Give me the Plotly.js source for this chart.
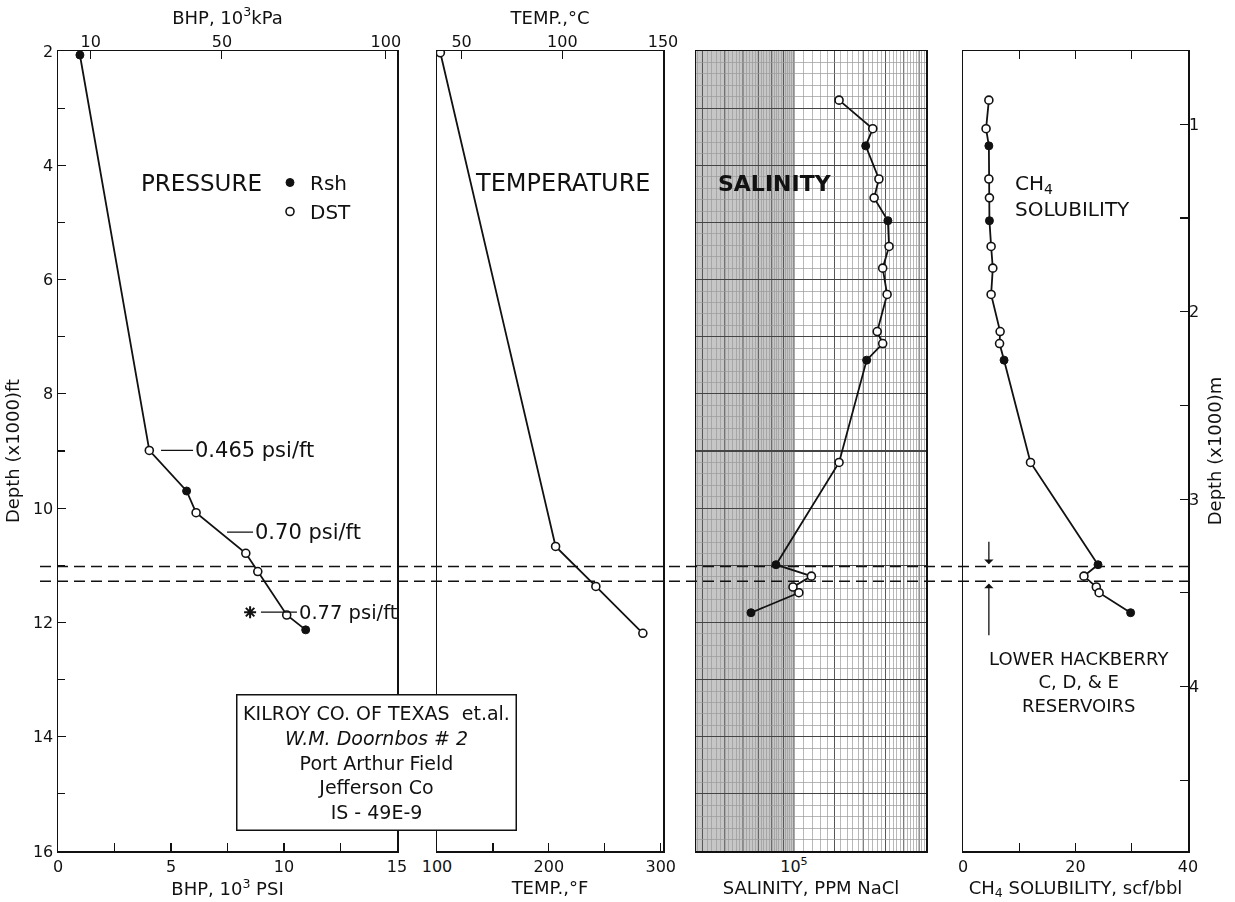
<!DOCTYPE html>
<html><head><meta charset="utf-8">
<script src="https://cdn.plot.ly/plotly-3.0.1.min.js"></script>
<style>html,body{margin:0;padding:0;background:#fff}#chart{width:1235px;height:902px}</style>
</head><body><div id="chart"></div>
<script>
// ---------------- data ----------------
// Pressure (BHP, 10^3 psi) vs depth (x1000 ft)
const presDepth  = [2.07, 8.99, 9.70, 10.08, 10.79, 11.11, 11.87, 12.13];
const presKsi    = [0.97, 4.04, 5.69, 6.11, 8.31, 8.84, 10.12, 10.96];
const presSource = ['Rsh','DST','Rsh','DST','DST','DST','DST','Rsh'];
const starDepth  = [11.82];
const starKsi    = [8.50];
// Temperature (deg F)
const tempDepth = [2.03, 10.67, 11.37, 12.19];
const tempF     = [103, 206, 242, 284];
// Salinity (ppm NaCl) and CH4 solubility (scf/bbl) at sample depths
const sampleDepth  = [2.86,3.36,3.66,4.24,4.57,4.97,5.42,5.80,6.26,6.91,7.12,7.41,9.20,10.99,11.19,11.38,11.48,11.83];
const salinityPpm  = [157000,220000,205000,234000,223000,256000,259000,243000,254000,230000,243000,207000,157000,83500,119000,99000,105000,65000];
const ch4Scf       = [4.6,4.1,4.6,4.6,4.7,4.7,5.0,5.3,5.0,6.6,6.5,7.3,12.0,24.0,21.5,23.7,24.2,29.8];
const sampleSource = ['DST','DST','Rsh','DST','DST','Rsh','DST','DST','DST','DST','DST','Rsh','DST','Rsh','DST','DST','DST','Rsh'];
// Lower Hackberry reservoir boundaries (x1000 ft)
const reservoirDepths = [11.02, 11.28];
// tick labels
const psiTicks = [0,5,10,15], psiMinor = [2.5,7.5,12.5];
const kpaTicks = [10,50,100];
const fTicks = [100,200,300], fMinor = [150,250];
const cTicks = [50,100,150];
const ch4Ticks = [0,20,40], ch4Minor = [10,30];
const gradLabels = ['0.465 psi/ft','0.70 psi/ft','0.77 psi/ft'];

// ---------------- helpers ----------------
const F = 'DejaVu Sans, sans-serif';
const INK = '#111';
const PSI2MPA = 6.894757, FT2M = 0.3048;
const fToC = f => (f - 32) / 1.8;
const log10 = v => Math.log10(v);
const pick = (arr, src, key) => arr.filter((_, i) => src[i] === key);

const L = 58, R = 1188, W = 1235;
const pw = R - L;
const dom = (a, b) => [(a - L) / pw, (b - L) / pw];
const salLo = 5 - 98 / 230, salHi = salLo + 1;

function axis(extra) {
  return Object.assign({
    showline: true, linecolor: INK, linewidth: 1.5, mirror: true,
    zeroline: false, showgrid: false, ticks: 'inside', tickcolor: INK,
    ticklen: 8, tickwidth: 1.2, automargin: false,
    tickfont: {family: F, size: 16, color: INK}
  }, extra);
}
const ttl = (t, extra) => Object.assign({text: t, font: {family: F, size: 18, color: INK}}, extra || {});

const lineStyle = {color: INK, width: 1.8};
const rshMarker = {symbol: 'circle', size: 8, color: INK, line: {color: INK, width: 1}};
const dstMarker = {symbol: 'circle', size: 8, color: '#fff', line: {color: INK, width: 1.6}};

const traces = [];
// pressure
traces.push({x: presKsi, y: presDepth, xaxis: 'x', yaxis: 'y', mode: 'lines', line: lineStyle, showlegend: false, hoverinfo: 'skip'});
traces.push({x: pick(presKsi, presSource, 'Rsh'), y: pick(presDepth, presSource, 'Rsh'), xaxis: 'x', yaxis: 'y', mode: 'markers', marker: rshMarker, name: 'Rsh'});
traces.push({x: pick(presKsi, presSource, 'DST'), y: pick(presDepth, presSource, 'DST'), xaxis: 'x', yaxis: 'y', mode: 'markers', marker: dstMarker, name: 'DST'});
traces.push({x: starKsi, y: starDepth, xaxis: 'x', yaxis: 'y', mode: 'markers', marker: {symbol: 'asterisk-open', size: 10, color: INK, line: {color: INK, width: 2}}, showlegend: false});
traces.push({x: presKsi.map(v => v * PSI2MPA), y: presDepth, xaxis: 'x5', yaxis: 'y', mode: 'markers', opacity: 0, showlegend: false, hoverinfo: 'skip'});
// temperature
traces.push({x: tempF, y: tempDepth, xaxis: 'x2', yaxis: 'y2', mode: 'lines+markers', line: lineStyle, marker: dstMarker, showlegend: false});
traces.push({x: tempF.map(fToC), y: tempDepth, xaxis: 'x6', yaxis: 'y2', mode: 'markers', opacity: 0, showlegend: false, hoverinfo: 'skip'});
// salinity
const salLog = salinityPpm.map(log10);
traces.push({x: salLog, y: sampleDepth, xaxis: 'x3', yaxis: 'y3', mode: 'lines', line: lineStyle, showlegend: false});
traces.push({x: pick(salLog, sampleSource, 'Rsh'), y: pick(sampleDepth, sampleSource, 'Rsh'), xaxis: 'x3', yaxis: 'y3', mode: 'markers', marker: rshMarker, showlegend: false});
traces.push({x: pick(salLog, sampleSource, 'DST'), y: pick(sampleDepth, sampleSource, 'DST'), xaxis: 'x3', yaxis: 'y3', mode: 'markers', marker: dstMarker, showlegend: false});
// CH4
traces.push({x: ch4Scf, y: sampleDepth, xaxis: 'x4', yaxis: 'y4', mode: 'lines', line: lineStyle, showlegend: false});
traces.push({x: pick(ch4Scf, sampleSource, 'Rsh'), y: pick(sampleDepth, sampleSource, 'Rsh'), xaxis: 'x4', yaxis: 'y4', mode: 'markers', marker: rshMarker, showlegend: false});
traces.push({x: pick(ch4Scf, sampleSource, 'DST'), y: pick(sampleDepth, sampleSource, 'DST'), xaxis: 'x4', yaxis: 'y4', mode: 'markers', marker: dstMarker, showlegend: false});
traces.push({x: ch4Scf, y: sampleDepth.map(d => d * FT2M), xaxis: 'x4', yaxis: 'y5', mode: 'markers', opacity: 0, showlegend: false, hoverinfo: 'skip'});

// salinity log-paper grid (graph paper background, not data)
const salMajor = [], salMinor = [];
for (let v = 38000; v < 100000; v += 2000) (v % 10000 === 0 ? salMajor : salMinor).push(v);
for (let v = 100000; v <= 370000; v += 10000) (v % 50000 === 0 ? salMajor : salMinor).push(v);
const depthFine = [];
for (let k = 10; k <= 80; k++) if (k % 5 !== 0) depthFine.push(k / 5);

const paperShapes = [
  {type: 'rect', xref: 'x3', yref: 'paper', x0: salLo, x1: 5, y0: 0, y1: 1,
   fillcolor: '#c6c6c6', line: {width: 0}, layer: 'below'}
].concat(salMajor.map(v => ({type: 'line', xref: 'x3', yref: 'paper', x0: log10(v), x1: log10(v), y0: 0, y1: 1,
   line: {color: '#555', width: 1}, layer: 'below'})));

const arrowAnn = (head, tail) => ({xref: 'x4', yref: 'y4', x: 4.6, y: head, axref: 'x4', ayref: 'y4', ax: 4.6, ay: tail,
  text: '', showarrow: true, arrowhead: 1, arrowsize: 1.2, arrowwidth: 1.3, arrowcolor: INK});
const gradAnn = (i, x, y, ax, size) => ({xref: 'x', yref: 'y', x: x, y: y, ax: ax, ay: 0, xanchor: 'left',
  text: gradLabels[i], showarrow: true, arrowhead: 0, arrowwidth: 1.3, arrowcolor: INK,
  font: {family: F, size: size, color: INK}});

const layout = {
  width: W, height: 902,
  margin: {l: L, r: W - R, t: 51, b: 51},
  paper_bgcolor: '#fff', plot_bgcolor: 'rgba(0,0,0,0)',
  font: {family: F, color: INK},
  showlegend: true,
  legend: {x: (270 - L) / pw, y: (851 - 163) / 800, xanchor: 'left', yanchor: 'top',
           font: {family: F, size: 20, color: INK}, bgcolor: 'rgba(0,0,0,0)',
           itemwidth: 30, tracegroupgap: 0, traceorder: 'normal'},
  xaxis: axis({domain: dom(58, 397), anchor: 'y', range: [0, 15], tickvals: psiTicks,
               minor: {tickvals: psiMinor, ticks: 'inside', ticklen: 8, tickcolor: INK},
               title: ttl('BHP, 10<sup>3</sup> PSI', {standoff: 6})}),
  xaxis5: axis({overlaying: 'x', anchor: 'y', side: 'top', showline: false,
                range: [0, 15 * PSI2MPA], tickvals: kpaTicks,
                title: ttl('BHP, 10<sup>3</sup>kPa', {standoff: 2})}),
  xaxis2: axis({domain: dom(437, 663), anchor: 'y2', range: [100, 302], tickvals: fTicks,
                minor: {tickvals: fMinor, ticks: 'inside', ticklen: 8, tickcolor: INK},
                title: ttl('TEMP.,°F', {standoff: 6})}),
  xaxis6: axis({overlaying: 'x2', anchor: 'y2', side: 'top', showline: false,
                range: [fToC(100), fToC(302)], tickvals: cTicks,
                title: ttl('TEMP.,°C', {standoff: 2})}),
  xaxis3: axis({domain: dom(696, 926), anchor: 'y3', range: [salLo, salHi],
                tickvals: [5], ticktext: ['10<sup>5</sup>'], ticks: '',
                minor: {tickvals: salMinor.map(log10), showgrid: true, gridcolor: '#9a9a9a', gridwidth: 0.7, ticks: ''},
                title: ttl('SALINITY, PPM NaCl', {standoff: 6})}),
  xaxis4: axis({domain: dom(963, 1188), anchor: 'y4', range: [0, 40], tickvals: ch4Ticks,
                minor: {tickvals: ch4Minor, ticks: 'inside', ticklen: 8, tickcolor: INK},
                mirror: 'ticks',
                title: ttl('CH<sub>4</sub> SOLUBILITY, scf/bbl', {standoff: 6})}),
  yaxis: axis({domain: [0, 1], anchor: 'x', range: [16, 2], dtick: 2, tick0: 0,
               minor: {dtick: 1, ticks: 'inside', ticklen: 7, tickcolor: INK},
               title: ttl('Depth (x1000)ft', {standoff: 8})}),
  yaxis2: axis({matches: 'y', anchor: 'x2', showticklabels: false, ticks: ''}),
  yaxis3: axis({matches: 'y', anchor: 'x3', showticklabels: false, ticks: '', dtick: 1, tick0: 0,
                showgrid: true, gridcolor: '#444', gridwidth: 1.1,
                minor: {tickvals: depthFine, showgrid: true, gridcolor: '#9a9a9a', gridwidth: 0.7, ticks: ''}}),
  yaxis4: axis({matches: 'y', anchor: 'x4', showticklabels: false, ticks: ''}),
  yaxis5: axis({overlaying: 'y4', anchor: 'x4', side: 'right', showline: false,
                range: [16 * FT2M, 2 * FT2M], dtick: 1, tick0: 0,
                minor: {dtick: 0.5, ticks: 'inside', ticklen: 8, tickcolor: INK},
                title: ttl('Depth (x1000)m', {standoff: 10})}),
  shapes: paperShapes.concat(reservoirDepths.map(d => ({
    type: 'line', xref: 'paper', yref: 'y', x0: -18 / pw, x1: 1, y0: d, y1: d,
    line: {color: INK, width: 1.5, dash: '11px,6px'}, layer: 'above'}))),
  annotations: [
    {xref: 'x', yref: 'y', x: 6.35, y: 4.31, text: 'PRESSURE', showarrow: false, font: {family: F, size: 23, color: INK}},
    {xref: 'x2', yref: 'y2', x: 213, y: 4.31, text: 'TEMPERATURE', showarrow: false, font: {family: F, size: 24, color: INK}},
    {xref: 'x3', yref: 'y3', x: salLo + (775 - 696) / 230, y: 4.31, text: '<b>SALINITY</b>', showarrow: false, font: {family: F, size: 22, color: INK}},
    {xref: 'x4', yref: 'y4', x: 8.9, y: 4.54, text: 'CH<sub>4</sub><br>SOLUBILITY', align: 'left', xanchor: 'left', showarrow: false, font: {family: F, size: 20, color: INK}},
    {xref: 'x4', yref: 'y4', x: 20.6, y: 13.04, text: 'LOWER HACKBERRY<br>C, D, & E<br>RESERVOIRS', showarrow: false, font: {family: F, size: 18, color: INK}},
    arrowAnn(10.98, 10.56),
    arrowAnn(11.32, 12.25),
    gradAnn(0, 4.56, 8.99, 32, 21),
    gradAnn(1, 7.48, 10.42, 26, 21),
    gradAnn(2, 8.98, 11.82, 36, 19.5),
    {xref: 'paper', yref: 'paper', x: (376.5 - L) / pw, y: (851 - 762.5) / 800, xanchor: 'center', yanchor: 'middle', showarrow: false,
     width: 276, height: 132, bgcolor: '#fff', bordercolor: INK, borderwidth: 1.5, borderpad: 1, align: 'center',
     font: {family: F, size: 19, color: INK},
     text: 'KILROY CO. OF TEXAS&nbsp;&nbsp;et.al.<br><i>W.M. Doornbos # 2</i><br>Port Arthur Field<br>Jefferson Co<br>IS - 49E-9'}
  ]
};

Plotly.newPlot('chart', traces, layout, {displayModeBar: false, staticPlot: true});
</script></body></html>
